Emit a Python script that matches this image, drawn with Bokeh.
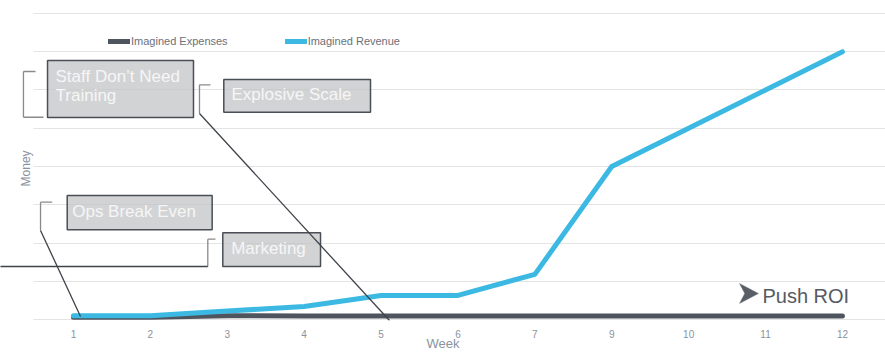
import math
from bokeh.plotting import figure
from bokeh.models import (ColumnDataSource, Range1d, FixedTicker, Legend, LegendItem,
                          BoxAnnotation, Label, Arrow, PolyAnnotation)
from bokeh.embed import file_html
from bokeh.resources import INLINE

# ---- data ----
weeks = ["1", "2", "3", "4", "5", "6", "7", "9", "10", "11", "12"]
imagined_expenses = [0.06, 0.06, 0.1, 0.09, 0.09, 0.09, 0.09, 0.09, 0.09, 0.09, 0.09]
imagined_revenue = [0.1, 0.1, 0.22, 0.34, 0.63, 0.63, 1.18, 4.0, 5.0, 6.0, 7.0]
money_grid = [0, 1, 2, 3, 4, 5, 6, 7, 8]

callout_texts = ["Staff Don\u2019t Need", "Training", "Explosive Scale", "Ops Break Even", "Marketing"]

FONT = "Liberation Sans"
GRAY_TXT = "#8a92a0"

# each week sits in the middle of its own slot on the x axis
week_pos = [i + 0.5 for i in range(len(weeks))]
src = ColumnDataSource(dict(x=week_pos, exp=imagined_expenses, rev=imagined_revenue))

p = figure(width=885, height=353, x_range=Range1d(-0.4486, 11.0599), y_range=Range1d(-0.026, 8.026),
           output_backend="svg", toolbar_location=None, y_axis_location=None,
           min_border_left=0, min_border_right=0, min_border_top=12, min_border_bottom=33)
p.outline_line_color = None
p.background_fill_color = "white"
p.border_fill_color = "white"

# grid
p.xgrid.grid_line_color = None
p.ygrid.ticker = FixedTicker(ticks=money_grid)
p.ygrid.grid_line_color = "#e4e4e4"
p.ygrid.grid_line_width = 1

# keep the left margin free of grid lines
p.add_layout(BoxAnnotation(right=-0.02, fill_color="white", fill_alpha=1, line_color=None,
                           level="underlay"))

# x axis
p.xaxis.ticker = FixedTicker(ticks=week_pos)
p.xaxis.major_label_overrides = {x: w for x, w in zip(week_pos, weeks)}
p.xaxis.axis_line_color = None
p.xaxis.major_tick_line_color = None
p.xaxis.minor_tick_line_color = None
p.xaxis.major_label_standoff = 3
p.xaxis.major_label_text_font = FONT
p.xaxis.major_label_text_font_size = "10px"
p.xaxis.major_label_text_color = GRAY_TXT
p.xaxis.axis_label = "Week"
p.xaxis.axis_label_standoff = -5
p.xaxis.axis_label_text_font = FONT
p.xaxis.axis_label_text_font_size = "13px"
p.xaxis.axis_label_text_font_style = "normal"
p.xaxis.axis_label_text_color = GRAY_TXT

# y axis title
p.add_layout(Label(x=-0.111, y=3.95, text="Money", angle=math.pi / 2, text_align="center",
                   text_baseline="middle", text_font=FONT, text_font_size="12px",
                   text_color=GRAY_TXT))

# ---- callouts (boxes, brackets, leader lines) ----
box_style = dict(fill_color="#c3c4c7", fill_alpha=0.75, line_color="#4a4e55", line_width=1.5, line_alpha=1)
boxes = [
    (0.163, 2.061, 6.771, 5.281),   # Staff Don't Need Training
    (2.455, 4.363, 6.275, 5.420),   # Explosive Scale
    (0.419, 2.304, 3.242, 2.345),   # Ops Break Even
    (2.442, 3.713, 2.267, 1.386),   # Marketing
]
for l, r, t, b in boxes:
    p.add_layout(BoxAnnotation(left=l, right=r, top=t, bottom=b, **box_style))

BR = "#8a8a8a"
LD = "#3e434a"
seg = dict(
    x0=[-0.150, -0.150, -0.150,   2.139, 2.139, 2.139,   0.072, 0.072, 0.072,   2.247, 2.247, 2.247],
    y0=[6.484, 6.484, 5.288,      6.136, 6.136, 5.386,   3.067, 3.067, 2.327,   2.099, 2.099, 1.386],
    x1=[0.007, -0.150, 0.111,     2.282, 2.139, 4.610,   0.224, 0.072, 0.592,   2.347, 2.247, -0.5],
    y1=[6.484, 5.288, 5.288,      6.136, 5.386, -0.026,  3.067, 2.327, 0.078,   2.099, 1.386, 1.386],
    c=[BR, BR, BR, BR, BR, LD, BR, BR, LD, BR, BR, LD],
)
seg_src = ColumnDataSource(seg)
p.add_layout(Arrow(end=None, x_start="x0", y_start="y0", x_end="x1", y_end="y1",
                   line_color="c", line_width=1.3, source=seg_src))

label_pos = [(0.267, 6.352), (0.267, 5.855), (2.555, 5.882), (0.484, 2.830), (2.551, 1.863)]
for txt, (lx, ly) in zip(callout_texts, label_pos):
    p.add_layout(Label(x=lx, y=ly, text=txt, text_font=FONT, text_font_size="17px",
                       text_color="#f6f6f6", text_baseline="alphabetic", text_align="left"))

# ---- series ----
r_exp = p.line("x", "exp", source=src, line_color="#4f555e", line_width=5,
               line_cap="round", line_join="round")
r_rev = p.line("x", "rev", source=src, line_color="#3bb9e3", line_width=5,
               line_cap="round", line_join="round")

legend = Legend(items=[LegendItem(label="Imagined Expenses", renderers=[r_exp]),
                       LegendItem(label="Imagined Revenue", renderers=[r_rev])],
                orientation="horizontal", location=(108, 273), padding=0, margin=0,
                spacing=57, label_standoff=1, glyph_width=22, glyph_height=12, label_height=12,
                label_text_font=FONT, label_text_font_size="11px", label_text_color="#6b7079",
                border_line_color=None, background_fill_alpha=0)
p.add_layout(legend, "center")

# ---- Push ROI mark ----
p.add_layout(PolyAnnotation(xs=[9.161, 9.408, 9.161, 9.230], ys=[0.941, 0.680, 0.418, 0.680],
                            xs_units="data", ys_units="data",
                            fill_color="#5a5f66", fill_alpha=1, line_color="#5a5f66", line_width=1.2))
p.add_layout(Label(x=9.460, y=0.624, text="Push ROI", text_font=FONT, text_font_size="20px",
                   text_color="#555b62", text_baseline="alphabetic"))

open("out.html", "w").write(file_html(p, INLINE))
